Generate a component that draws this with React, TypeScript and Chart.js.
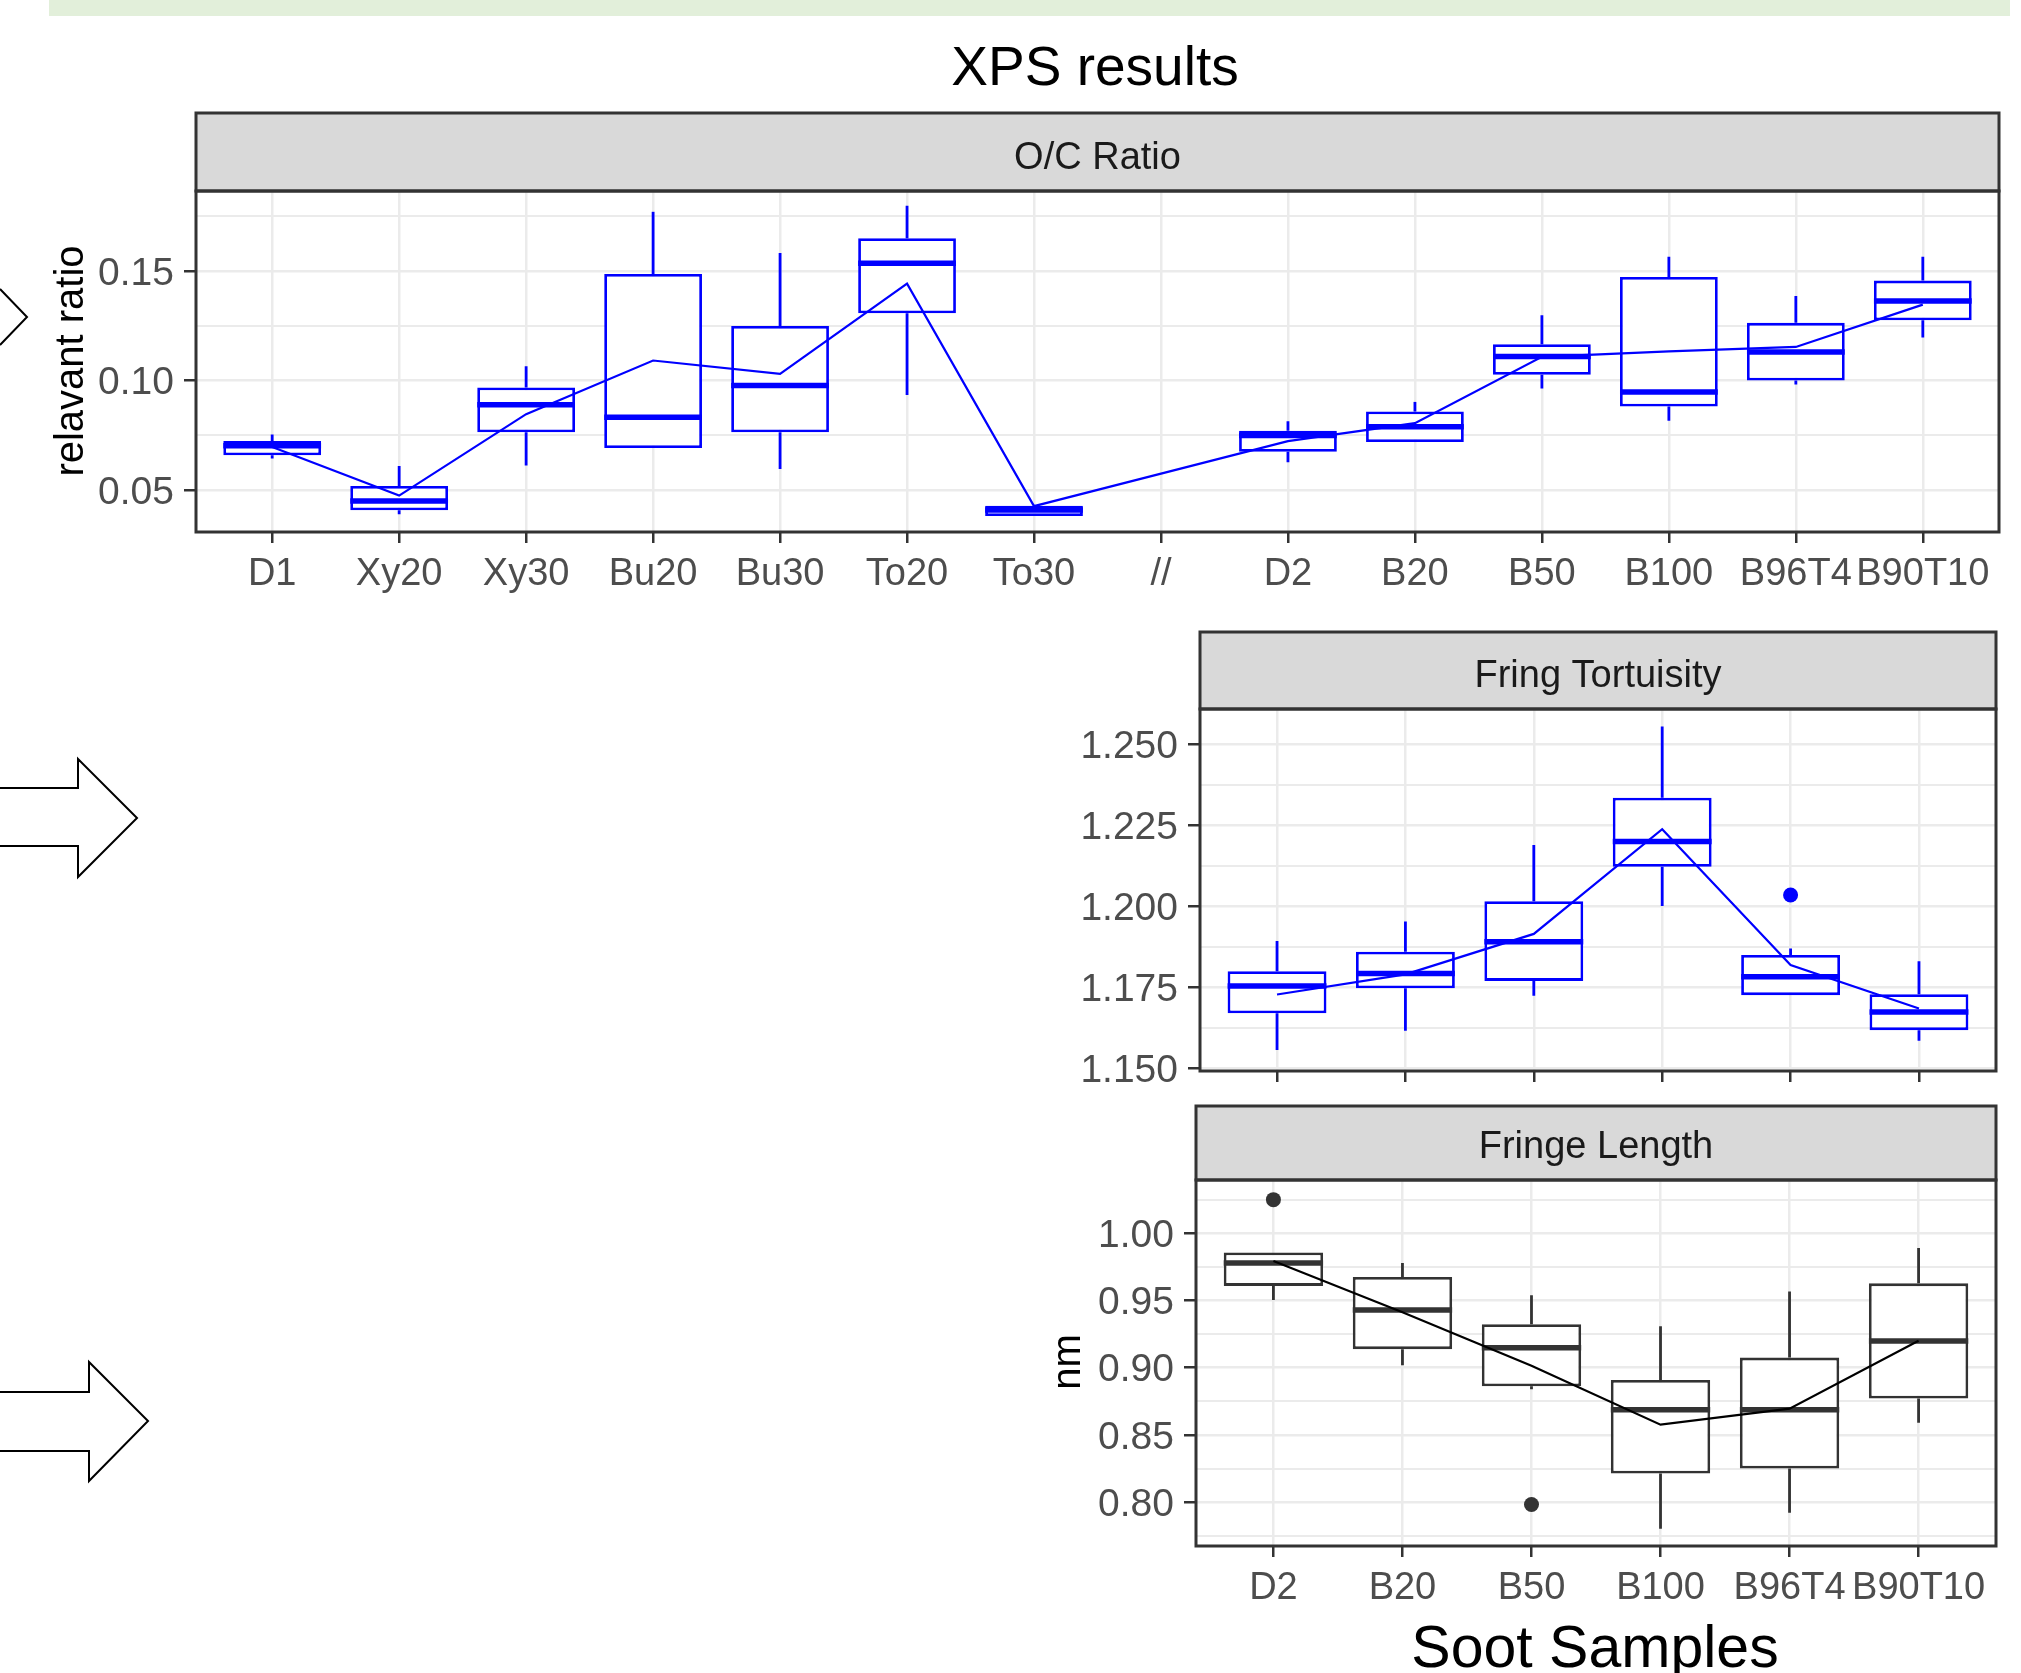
import React, { useEffect, useRef } from 'react';
import { Chart, registerables } from 'chart.js';

Chart.register(...registerables);

const PAGE_W = 2021;
const PAGE_H = 1673;
const FONT = '"Liberation Sans", Arial, Helvetica, sans-serif';
Chart.defaults.font.family = FONT;

// ---------------- O/C Ratio (XPS) ----------------
const ocCategories = ['D1', 'Xy20', 'Xy30', 'Bu20', 'Bu30', 'To20', 'To30', '//', 'D2', 'B20', 'B50', 'B100', 'B96T4', 'B90T10'];
const ocWhiskerLow = [0.0644, 0.0389, 0.0612, 0.0691, 0.0596, 0.0933, 0.0381, null, 0.0626, 0.0719, 0.0963, 0.0816, 0.0981, 0.1196];
const ocQ1 = [0.0658, 0.0407, 0.0763, 0.0691, 0.0763, 0.1307, 0.0381, null, 0.0674, 0.0719, 0.1026, 0.0881, 0.1000, 0.1275];
const ocMedian = [0.0702, 0.0449, 0.0889, 0.0832, 0.0977, 0.1535, 0.0409, null, 0.0749, 0.0789, 0.1109, 0.0947, 0.1130, 0.1363];
const ocQ3 = [0.0723, 0.0518, 0.0968, 0.1486, 0.1249, 0.1649, 0.0428, null, 0.0770, 0.0858, 0.1165, 0.1472, 0.1263, 0.1456];
const ocWhiskerHigh = [0.0753, 0.0609, 0.1065, 0.1770, 0.1582, 0.1798, 0.0428, null, 0.0814, 0.0902, 0.1298, 0.1565, 0.1386, 0.1565];
const ocMean = [0.0696, 0.0474, 0.0846, 0.1091, 0.1030, 0.1442, 0.0426, null, 0.0723, 0.0805, 0.1108, 0.1133, 0.1153, 0.1346];
const ocOutlierCat: string[] = [];
const ocOutlierValue: number[] = [];
const ocYMajor = [0.05, 0.1, 0.15];
const ocYMinor = [0.075, 0.125, 0.175];

// ---------------- Fring Tortuisity ----------------
const sootCategories = ['D2', 'B20', 'B50', 'B100', 'B96T4', 'B90T10'];
const ftWhiskerLow = [1.1557, 1.1616, 1.1724, 1.2001, 1.1726, 1.1585];
const ftQ1 = [1.1670, 1.1747, 1.1770, 1.2122, 1.1726, 1.1618];
const ftMedian = [1.1754, 1.1793, 1.1891, 1.2200, 1.1783, 1.1674];
const ftQ3 = [1.1800, 1.1860, 1.2016, 1.2335, 1.1850, 1.1729];
const ftWhiskerHigh = [1.1893, 1.1953, 1.2189, 1.2555, 1.1870, 1.1831];
const ftMean = [1.1728, 1.1790, 1.1915, 1.2238, 1.1819, 1.1685];
const ftOutlierCat = ['B96T4'];
const ftOutlierValue = [1.2035];
const ftYMajor = [1.15, 1.175, 1.2, 1.225, 1.25];
const ftYMinor = [1.1625, 1.1875, 1.2125, 1.2375];

// ---------------- Fringe Length ----------------
const flWhiskerLow = [0.9503, 0.9019, 0.8840, 0.7804, 0.7923, 0.8591];
const flQ1 = [0.9608, 0.9138, 0.8862, 0.8213, 0.8251, 0.8771];
const flMedian = [0.9779, 0.9428, 0.9149, 0.8688, 0.8688, 0.9199];
const flQ3 = [0.9856, 0.9674, 0.9323, 0.8909, 0.9075, 0.9627];
const flWhiskerHigh = [0.9856, 0.9779, 0.9539, 0.9309, 0.9566, 0.9890];
const flMean = [0.9793, 0.9412, 0.9014, 0.8577, 0.8696, 0.9200];
const flOutlierCat = ['D2', 'B50'];
const flOutlierValue = [1.0249, 0.7983];
const flYMajor = [0.8, 0.85, 0.9, 0.95, 1.0];
const flYMinor = [0.775, 0.825, 0.875, 0.925, 0.975, 1.025];

type Num = number | null;
type TextItem = { text: string; x: number; y: number; size: number; color: string; rotate?: boolean };
type Panel = {
  id: string;
  categories: string[];
  whiskerLow: Num[]; q1: Num[]; median: Num[]; q3: Num[]; whiskerHigh: Num[]; mean: Num[];
  outlierCat: string[]; outlierValue: number[];
  yMin: number; yMax: number; yMajor: number[]; yMinor: number[]; decimals: number;
  boxColor: string; meanColor: string; showXLabels: boolean;
  strip: string; stripTop: number;
  area: { left: number; right: number; top: number; bottom: number };
  xAxisHeight: number;
  texts: TextItem[];
};

const panels: Panel[] = [
  {
    id: 'oc',
    categories: ocCategories,
    whiskerLow: ocWhiskerLow, q1: ocQ1, median: ocMedian, q3: ocQ3, whiskerHigh: ocWhiskerHigh, mean: ocMean,
    outlierCat: ocOutlierCat, outlierValue: ocOutlierValue,
    yMin: 0.0308, yMax: 0.1865, yMajor: ocYMajor, yMinor: ocYMinor, decimals: 2,
    boxColor: '#0000ff', meanColor: '#0000ff', showXLabels: true,
    strip: 'O/C Ratio', stripTop: 113,
    area: { left: 196, right: 1999, top: 191, bottom: 532 },
    xAxisHeight: 80,
    texts: [
      { text: 'XPS results', x: 1095, y: 85, size: 55, color: '#000000' },
      { text: 'relavant ratio', x: 83, y: 361, size: 40, color: '#000000', rotate: true },
    ],
  },
  {
    id: 'ft',
    categories: sootCategories,
    whiskerLow: ftWhiskerLow, q1: ftQ1, median: ftMedian, q3: ftQ3, whiskerHigh: ftWhiskerHigh, mean: ftMean,
    outlierCat: ftOutlierCat, outlierValue: ftOutlierValue,
    yMin: 1.1492, yMax: 1.2609, yMajor: ftYMajor, yMinor: ftYMinor, decimals: 3,
    boxColor: '#0000ff', meanColor: '#0000ff', showXLabels: false,
    strip: 'Fring Tortuisity', stripTop: 632,
    area: { left: 1200, right: 1996, top: 709, bottom: 1071 },
    xAxisHeight: 30,
    texts: [],
  },
  {
    id: 'fl',
    categories: sootCategories,
    whiskerLow: flWhiskerLow, q1: flQ1, median: flMedian, q3: flQ3, whiskerHigh: flWhiskerHigh, mean: flMean,
    outlierCat: flOutlierCat, outlierValue: flOutlierValue,
    yMin: 0.7675, yMax: 1.0395, yMajor: flYMajor, yMinor: flYMinor, decimals: 2,
    boxColor: '#333333', meanColor: '#000000', showXLabels: true,
    strip: 'Fringe Length', stripTop: 1106,
    area: { left: 1196, right: 1996, top: 1180, bottom: 1546 },
    xAxisHeight: 80,
    texts: [
      { text: 'Soot Samples', x: 1595, y: 1667, size: 59, color: '#000000' },
      { text: 'nm', x: 1080, y: 1362, size: 40, color: '#000000', rotate: true },
    ],
  },
];

const Y_LABEL_SHIFT = 6; // line height used to nudge y labels ~3px below their tick

function buildChart(canvas: HTMLCanvasElement, p: Panel) {
  const rows = p.categories
    .map((c, i) => ({
      i,
      wlo: p.whiskerLow[i], q1: p.q1[i], med: p.median[i], q3: p.q3[i], whi: p.whiskerHigh[i], mean: p.mean[i],
    }))
    .filter((r) => r.q1 !== null);

  const yTicks = [
    ...p.yMajor.map((v) => ({ value: v, main: true })),
    ...p.yMinor.map((v) => ({ value: v, main: false })),
  ].sort((a, b) => a.value - b.value);

  const Y_AXIS_W = 120;

  const boxPlugin = {
    id: 'boxExtras',
    afterDatasetDraw(chart: any, args: any) {
      if (args.index !== 0) return;
      const ctx = chart.ctx;
      const ys = chart.scales.y;
      ctx.save();
      ctx.strokeStyle = p.boxColor;
      ctx.lineCap = 'butt';
      args.meta.data.forEach((bar: any, j: number) => {
        const r = rows[j];
        const { x, width } = bar.getProps(['x', 'width'], true);
        ctx.lineWidth = 2.8;
        ctx.beginPath();
        ctx.moveTo(x, ys.getPixelForValue(r.q3));
        ctx.lineTo(x, ys.getPixelForValue(r.whi));
        ctx.moveTo(x, ys.getPixelForValue(r.q1));
        ctx.lineTo(x, ys.getPixelForValue(r.wlo));
        ctx.stroke();
        ctx.lineWidth = 5.5;
        ctx.beginPath();
        const ym = ys.getPixelForValue(r.med);
        ctx.moveTo(x - width / 2, ym);
        ctx.lineTo(x + width / 2, ym);
        ctx.stroke();
      });
      ctx.restore();
    },
  };

  const framePlugin = {
    id: 'frameStrip',
    afterDraw(chart: any) {
      const ctx = chart.ctx;
      const { left, right, top, bottom } = chart.chartArea;
      ctx.save();
      ctx.fillStyle = '#d9d9d9';
      ctx.fillRect(left, p.stripTop, right - left, top - p.stripTop);
      ctx.lineWidth = 3;
      ctx.strokeStyle = '#333333';
      ctx.strokeRect(left, p.stripTop, right - left, top - p.stripTop);
      ctx.strokeRect(left, top, right - left, bottom - top);
      ctx.fillStyle = '#1a1a1a';
      ctx.font = `38px ${FONT}`;
      ctx.textAlign = 'center';
      ctx.textBaseline = 'alphabetic';
      ctx.fillText(p.strip, (left + right) / 2, top - 22);
      p.texts.forEach((t) => {
        ctx.save();
        ctx.fillStyle = t.color;
        ctx.font = `${t.size}px ${FONT}`;
        ctx.textAlign = 'center';
        ctx.textBaseline = 'alphabetic';
        ctx.translate(t.x, t.y);
        if (t.rotate) ctx.rotate(-Math.PI / 2);
        ctx.fillText(t.text, 0, 0);
        ctx.restore();
      });
      ctx.restore();
    },
  };

  const n = p.categories.length;

  return new Chart(canvas, {
    type: 'bar',
    data: {
      datasets: [
        {
          type: 'bar',
          data: rows.map((r) => ({ x: r.i, y: [r.q1, r.q3] })),
          backgroundColor: '#ffffff',
          borderColor: p.boxColor,
          borderWidth: 2.8,
          borderSkipped: false,
          barPercentage: 0.77,
          categoryPercentage: 1,
          grouped: false,
          order: 2,
        } as any,
        {
          type: 'line',
          data: rows.map((r) => ({ x: r.i, y: r.mean })),
          borderColor: p.meanColor,
          borderWidth: 2.2,
          pointRadius: 0,
          fill: false,
          tension: 0,
          order: 1,
        } as any,
        {
          type: 'scatter',
          data: p.outlierCat.map((c, k) => ({ x: p.categories.indexOf(c), y: p.outlierValue[k] })),
          backgroundColor: p.boxColor,
          borderColor: p.boxColor,
          borderWidth: 0,
          pointRadius: 7.5,
          order: 0,
        } as any,
      ],
    },
    options: {
      responsive: false,
      animation: false,
      devicePixelRatio: 1,
      events: [],
      layout: {
        padding: {
          left: p.area.left - Y_AXIS_W,
          top: p.area.top,
          right: PAGE_W - p.area.right,
          bottom: PAGE_H - p.area.bottom - p.xAxisHeight,
        },
      },
      plugins: {
        legend: { display: false },
        tooltip: { enabled: false },
        title: { display: false },
      },
      scales: {
        x: {
          type: 'linear',
          min: -0.6,
          max: n - 1 + 0.6,
          offset: false,
          afterBuildTicks: (s: any) => {
            s.ticks = p.categories.map((_, i) => ({ value: i }));
          },
          afterFit: (s: any) => {
            s.height = p.xAxisHeight;
          },
          ticks: {
            autoSkip: false,
            maxRotation: 0,
            minRotation: 0,
            padding: 9,
            color: '#4d4d4d',
            font: { size: 38, family: FONT },
            callback: (v: any) => (p.showXLabels ? p.categories[Math.round(v)] : ''),
          },
          grid: {
            offset: false,
            color: '#ebebeb',
            lineWidth: 2.5,
            drawTicks: true,
            tickLength: 11,
            tickColor: '#333333',
            tickWidth: 2.5,
          },
          border: { display: false },
        },
        y: {
          type: 'linear',
          min: p.yMin,
          max: p.yMax,
          beginAtZero: false,
          afterBuildTicks: (s: any) => {
            s.ticks = yTicks.map((t) => ({ value: t.value, main: t.main }));
          },
          afterFit: (s: any) => {
            s.width = Y_AXIS_W;
          },
          ticks: {
            autoSkip: false,
            padding: 10,
            color: '#4d4d4d',
            font: { size: 39, family: FONT, lineHeight: `${Y_LABEL_SHIFT}px` },
            callback: (v: any, i: number, ticks: any[]) =>
              ticks[i] && ticks[i].main ? ['', Number(v).toFixed(p.decimals)] : '',
          },
          grid: {
            color: '#ebebeb',
            lineWidth: (c: any) => (c.tick && c.tick.main ? 2.5 : 2),
            drawTicks: true,
            tickLength: 12,
            tickColor: (c: any) => (c.tick && c.tick.main ? '#333333' : 'rgba(0,0,0,0)'),
            tickWidth: 2.5,
          },
          border: { display: false },
        },
      },
    } as any,
    plugins: [boxPlugin, framePlugin],
  });
}

function PanelChart({ panel }: { panel: Panel }) {
  const ref = useRef<HTMLCanvasElement>(null);
  useEffect(() => {
    if (!ref.current) return;
    const chart = buildChart(ref.current, panel);
    return () => chart.destroy();
  }, [panel]);
  return (
    <canvas
      ref={ref}
      width={PAGE_W}
      height={PAGE_H}
      style={{ position: 'absolute', left: 0, top: 0, width: PAGE_W, height: PAGE_H }}
    />
  );
}

export default function App() {
  return (
    <div
      style={{
        position: 'absolute',
        left: 0,
        top: 0,
        width: PAGE_W,
        height: PAGE_H,
        overflow: 'hidden',
        background: '#ffffff',
      }}
    >
      <svg width={PAGE_W} height={PAGE_H} style={{ position: 'absolute', left: 0, top: 0 }}>
        <rect x={49} y={0} width={1961} height={16} fill="#e2efda" />
        <polyline points="0,289 27,317 0,345" fill="none" stroke="#000000" strokeWidth={2} />
        <polygon
          points="-5,788 78,788 78,759 137,818 78,877 78,846 -5,846"
          fill="#ffffff"
          stroke="#000000"
          strokeWidth={2}
        />
        <polygon
          points="-5,1392 89,1392 89,1362 148,1421 89,1481 89,1451 -5,1451"
          fill="#ffffff"
          stroke="#000000"
          strokeWidth={2}
        />
      </svg>
      {panels.map((p) => (
        <PanelChart key={p.id} panel={p} />
      ))}
    </div>
  );
}
